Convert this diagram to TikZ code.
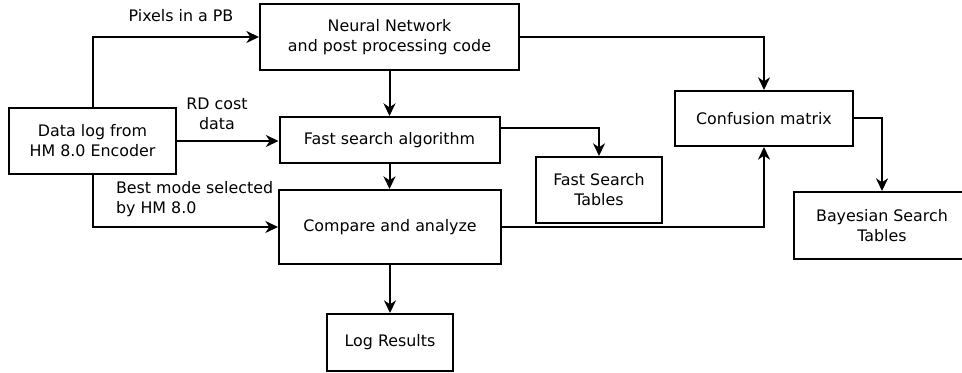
\documentclass[tikz,border=0pt]{standalone}
\usepackage{fontspec}
\setmainfont{DejaVu Sans}
\usetikzlibrary{arrows.meta}
\tikzset{
  box/.style={draw,line width=1.5pt,minimum width=#1,align=center,inner sep=0pt},
  conn/.style={draw,line width=1.5pt,-{Stealth[length=9.5pt,width=9pt,inset=3pt]}},
  lbl/.style={inner sep=0pt}
}
\begin{document}
\begin{tikzpicture}[x=0.75pt,y=-0.75pt,line width=1.5pt,
  every node/.style={font=\fontsize{11.9}{15}\selectfont}]
\useasboundingbox (0,0) rectangle (962,373);
\clip (0,0) rectangle (962,373);
\node[box=194.25pt,minimum height=49.5pt] (nn) at (389.5,37) {Neural Network\\and post processing code};
\node[box=125.25pt,minimum height=49.5pt] (dl) at (92.5,141) {Data log from\\HM 8.0 Encoder};
\node[box=165pt,minimum height=34.5pt] (fs) at (389.5,140) {Fast search algorithm};
\node[box=166.5pt,minimum height=55.5pt] (cmp) at (390,227) {Compare and analyze};
\node[box=94.5pt,minimum height=42.75pt] (log) at (390,342.5) {Log Results};
\node[box=94.5pt,minimum height=49.5pt] (fst) at (599,190) {Fast Search\\Tables};
\node[box=133.5pt,minimum height=41.25pt] (cm) at (764,118.5) {Confusion matrix};
\node[box=132pt,minimum height=50.25pt] (bay) at (882,225.5) {Bayesian Search\\Tables};
\node[lbl] (l1) at (181,16) {Pixels in a PB};
\node[lbl,align=center] (l2) at (217,114) {RD cost\\data};
\node[lbl,align=left,anchor=west] (l3) at (115,199) {Best mode selected\\by HM 8.0};
\draw[conn] (dl.north) |- (nn.west);
\draw[conn] (dl.east) -- (fs.west |- dl.east);
\draw[conn] (dl.south) |- (cmp.west);
\draw[conn] (nn.south) -- (nn.south |- fs.north);
\draw[conn] (fs.south) -- (fs.south |- cmp.north);
\draw[conn] (cmp.south) -- (cmp.south |- log.north);
\draw[conn] (nn.east) -| (cm.north);
\draw[conn] ([yshift=9pt]fs.east) -| (fst.north);
\draw[conn] (cmp.east) -| (cm.south);
\draw[conn] (cm.east) -| (bay.north);
\end{tikzpicture}
\end{document}
